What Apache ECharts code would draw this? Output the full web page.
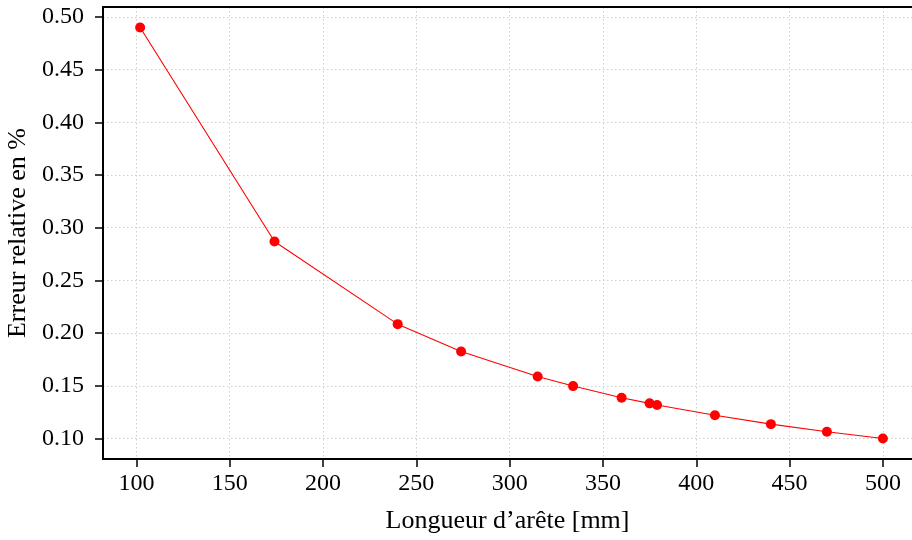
<!DOCTYPE html>
<html>
<head>
<meta charset="utf-8">
<script src="https://cdn.jsdelivr.net/npm/echarts@6/dist/echarts.min.js"></script>
<style>
html,body{margin:0;padding:0;background:#fff;}
#chart{width:912px;height:540px;}
</style>
</head>
<body>
<div id="chart"></div>
<script>
// Data
const edgeLengths = [102, 174, 240, 274, 315, 334, 360, 375, 379, 410, 440, 470, 500];
const relErrors   = [0.490, 0.287, 0.2085, 0.1825, 0.1588, 0.1497, 0.1386, 0.1333, 0.1318, 0.1220, 0.1136, 0.1064, 0.1000];
const xTicks = [100, 150, 200, 250, 300, 350, 400, 450, 500];
const yTicks = [0.10, 0.15, 0.20, 0.25, 0.30, 0.35, 0.40, 0.45, 0.50];
const xTitle = 'Longueur d’arête [mm]';
const yTitle = 'Erreur relative en %';

const FONT = '"Liberation Serif", "Times New Roman", serif';
const chart = echarts.init(document.getElementById('chart'), null, {renderer: 'canvas'});

const points = edgeLengths.map((x, i) => [x, relErrors[i]]);
const X_MIN = 82.1, X_MAX = 515.6;

chart.setOption({
  animation: false,
  backgroundColor: '#ffffff',
  grid: {left: 103, top: 7, bottom: 81, right: 0, show: false, containLabel: false, outerBoundsMode: 'none'},
  xAxis: [{
    type: 'value',
    min: X_MIN, max: X_MAX,
    name: xTitle,
    nameLocation: 'middle',
    nameGap: 49,
    nameTextStyle: {fontFamily: FONT, fontSize: 26, color: '#000'},
    axisLine: {show: true, onZero: false, lineStyle: {color: '#000', width: 2}},
    axisTick: {show: true, length: 8, lineStyle: {color: '#000', width: 1.5}, customValues: xTicks},
    axisLabel: {fontFamily: FONT, fontSize: 24, color: '#000', margin: 13, customValues: xTicks},
    splitLine: {show: true, lineStyle: {color: '#cfcfcf', width: 1, type: [1.5, 2.5]}}
  }, {
    type: 'value',
    position: 'top',
    min: X_MIN, max: X_MAX,
    axisLine: {show: true, onZero: false, lineStyle: {color: '#000', width: 2}},
    axisTick: {show: false},
    axisLabel: {show: false},
    splitLine: {show: false}
  }],
  yAxis: {
    type: 'value',
    min: 0.0805, max: 0.5095,
    name: yTitle,
    nameLocation: 'middle',
    nameGap: 65,
    nameRotate: 90,
    nameTextStyle: {fontFamily: FONT, fontSize: 26, color: '#000'},
    axisLine: {show: true, onZero: false, lineStyle: {color: '#000', width: 2}},
    axisTick: {show: true, length: 8, lineStyle: {color: '#000', width: 1.5}, customValues: yTicks},
    axisLabel: {fontFamily: FONT, fontSize: 24, color: '#000', margin: 19, customValues: yTicks,
      formatter: v => v.toFixed(2)},
    splitLine: {show: true, lineStyle: {color: '#cfcfcf', width: 1, type: [1.5, 2.5]}}
  },
  series: [{
    type: 'line',
    xAxisIndex: 0,
    data: points,
    symbol: 'circle',
    symbolSize: 10,
    lineStyle: {color: '#ff0000', width: 1.1},
    itemStyle: {color: '#ff0000'},
    z: 5
  }]
});
</script>
</body>
</html>
